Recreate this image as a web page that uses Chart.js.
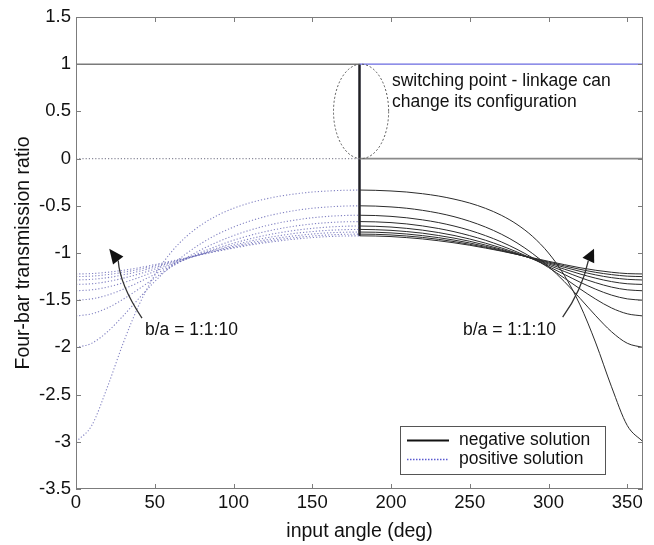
<!DOCTYPE html>
<html><head><meta charset="utf-8">
<script src="https://cdn.jsdelivr.net/npm/chart.js@4.4.1/dist/chart.umd.min.js"></script>
<style>html,body{margin:0;padding:0;background:#fff;}#wrap{width:654px;height:545px;}</style>
</head><body><div id="wrap"><canvas id="c" width="654" height="545"></canvas></div>
<script>
// ---- data ----
const anglesPos = [0,10,20,30,40,50,60,70,80,90,100,110,120,130,140,150,160,170,180];
const anglesNeg = [180,190,200,210,220,230,240,250,260,270,280,290,300,310,320,330,340,350,360];
// positive solution (dotted), 0..180 deg, b/a = 2..10
const pos2  = [-3,-2.827,-2.417,-1.953,-1.55,-1.235,-1,-0.826,-0.697,-0.6,-0.527,-0.471,-0.429,-0.396,-0.372,-0.354,-0.343,-0.336,-0.333];
const pos3  = [-2,-1.956,-1.834,-1.665,-1.48,-1.302,-1.143,-1.007,-0.893,-0.8,-0.725,-0.664,-0.615,-0.577,-0.548,-0.526,-0.512,-0.503,-0.5];
const pos4  = [-1.667,-1.644,-1.582,-1.489,-1.38,-1.265,-1.154,-1.052,-0.961,-0.882,-0.816,-0.76,-0.714,-0.677,-0.649,-0.627,-0.612,-0.603,-0.6];
const pos5  = [-1.5,-1.486,-1.446,-1.384,-1.309,-1.226,-1.143,-1.063,-0.989,-0.923,-0.865,-0.816,-0.774,-0.74,-0.713,-0.692,-0.678,-0.67,-0.667];
const pos6  = [-1.4,-1.39,-1.361,-1.315,-1.259,-1.195,-1.129,-1.064,-1.002,-0.946,-0.896,-0.852,-0.814,-0.783,-0.758,-0.739,-0.725,-0.717,-0.714];
const pos7  = [-1.333,-1.326,-1.303,-1.267,-1.222,-1.171,-1.116,-1.062,-1.009,-0.96,-0.916,-0.876,-0.842,-0.814,-0.79,-0.773,-0.76,-0.753,-0.75];
const pos8  = [-1.286,-1.279,-1.261,-1.232,-1.194,-1.151,-1.105,-1.058,-1.013,-0.969,-0.93,-0.894,-0.863,-0.837,-0.816,-0.799,-0.787,-0.78,-0.778];
const pos9  = [-1.25,-1.245,-1.229,-1.205,-1.173,-1.136,-1.096,-1.055,-1.014,-0.976,-0.94,-0.908,-0.879,-0.855,-0.835,-0.82,-0.809,-0.802,-0.8];
const pos10 = [-1.222,-1.218,-1.204,-1.183,-1.156,-1.123,-1.088,-1.051,-1.015,-0.98,-0.948,-0.918,-0.892,-0.87,-0.851,-0.837,-0.826,-0.82,-0.818];
// negative solution (solid), 180..360 deg, b/a = 2..10
const neg2  = [-0.333,-0.336,-0.343,-0.354,-0.372,-0.396,-0.429,-0.471,-0.527,-0.6,-0.697,-0.826,-1,-1.235,-1.55,-1.953,-2.417,-2.827,-3];
const neg3  = [-0.5,-0.503,-0.512,-0.526,-0.548,-0.577,-0.615,-0.664,-0.725,-0.8,-0.893,-1.007,-1.143,-1.302,-1.48,-1.665,-1.834,-1.956,-2];
const neg4  = [-0.6,-0.603,-0.612,-0.627,-0.649,-0.677,-0.714,-0.76,-0.816,-0.882,-0.961,-1.052,-1.154,-1.265,-1.38,-1.489,-1.582,-1.644,-1.667];
const neg5  = [-0.667,-0.67,-0.678,-0.692,-0.713,-0.74,-0.774,-0.816,-0.865,-0.923,-0.989,-1.063,-1.143,-1.226,-1.309,-1.384,-1.446,-1.486,-1.5];
const neg6  = [-0.714,-0.717,-0.725,-0.739,-0.758,-0.783,-0.814,-0.852,-0.896,-0.946,-1.002,-1.064,-1.129,-1.195,-1.259,-1.315,-1.361,-1.39,-1.4];
const neg7  = [-0.75,-0.753,-0.76,-0.773,-0.79,-0.814,-0.842,-0.876,-0.916,-0.96,-1.009,-1.062,-1.116,-1.171,-1.222,-1.267,-1.303,-1.326,-1.333];
const neg8  = [-0.778,-0.78,-0.787,-0.799,-0.816,-0.837,-0.863,-0.894,-0.93,-0.969,-1.013,-1.058,-1.105,-1.151,-1.194,-1.232,-1.261,-1.279,-1.286];
const neg9  = [-0.8,-0.802,-0.809,-0.82,-0.835,-0.855,-0.879,-0.908,-0.94,-0.976,-1.014,-1.055,-1.096,-1.136,-1.173,-1.205,-1.229,-1.245,-1.25];
const neg10 = [-0.818,-0.82,-0.826,-0.837,-0.851,-0.87,-0.892,-0.918,-0.948,-0.98,-1.015,-1.051,-1.088,-1.123,-1.156,-1.183,-1.204,-1.218,-1.222];
// b/a = 1 (degenerate case): constant values either side of the switching point
const switchAngle = 180;
const ends = [0, 360];
const pos1Left = [0, 0], pos1Right = [1, 1];
const neg1Left = [1, 1], neg1Right = [0, 0];
// axes / labels
const xMin = 0, xMax = 360;
const yMin = -3.5, yMax = 1.5;
const xTicks = [0,50,100,150,200,250,300,350];
const yTicks = [-3.5,-3,-2.5,-2,-1.5,-1,-0.5,0,0.5,1,1.5];
const xTitle = 'input angle (deg)';
const yTitle = 'Four-bar transmission ratio';
const legendLabels = ['negative solution', 'positive solution'];
const noteLines = ['switching point - linkage can', 'change its configuration'];
const ratioText = 'b/a = 1:1:10';

// ---- build datasets ----
const posSets = [pos2,pos3,pos4,pos5,pos6,pos7,pos8,pos9,pos10];
const negSets = [neg2,neg3,neg4,neg5,neg6,neg7,neg8,neg9,neg10];
const pts = (xs, ys) => xs.map((x, i) => ({x, y: ys[i]}));
const DOT = 'rgba(100,100,180,0.8)';
const SOLID = '#2b2b2b';
const datasets = [];
const lowestAtSwitch = Math.min(...posSets.map(a => a[a.length - 1]));
datasets.push({data: pts([ends[0], switchAngle], neg1Left), borderColor:'#7a7a7a', borderWidth:1.6});
datasets.push({data: pts([switchAngle, ends[1]], neg1Right), borderColor:'#8a8a8a', borderWidth:1.6});
datasets.push({data: pts([ends[0], switchAngle], pos1Left), borderColor:'#8a8a9a', borderWidth:1.2, borderDash:[1.2,2]});
datasets.push({data: pts([switchAngle, ends[1]], pos1Right), borderColor:'#6a6ae0', borderWidth:1.2});
negSets.forEach(a => datasets.push({data: pts(anglesNeg, a), borderColor: SOLID, borderWidth: 1, cubicInterpolationMode:'monotone'}));
posSets.forEach(a => datasets.push({data: pts(anglesPos, a), borderColor: DOT, borderWidth: 1.1, borderDash:[1.2,2], cubicInterpolationMode:'monotone'}));
// jumps at the switching point
datasets.push({data: pts([switchAngle, switchAngle], [neg1Left[1], lowestAtSwitch]), borderColor:'#222', borderWidth:2.4});
datasets.push({data: pts([switchAngle, switchAngle], [pos1Right[0], lowestAtSwitch]), borderColor:'#3c3cc0', borderWidth:1.4});

const FONT = '"Liberation Sans", Arial, sans-serif';

const deco = {
  id: 'deco',
  afterDatasetsDraw(chart) {
    const {ctx, chartArea: a, scales: {x, y}} = chart;
    const X = v => x.getPixelForValue(v), Y = v => y.getPixelForValue(v);
    ctx.save();
    // frame + inward ticks
    ctx.strokeStyle = '#7c7c7c'; ctx.lineWidth = 1;
    ctx.strokeRect(a.left + 0.5, a.top + 0.5, a.right - a.left - 1, a.bottom - a.top - 1);
    ctx.beginPath();
    xTicks.forEach(v => {
      const px = Math.round(X(v)) + 0.5;
      ctx.moveTo(px, a.bottom); ctx.lineTo(px, a.bottom - 5);
      ctx.moveTo(px, a.top); ctx.lineTo(px, a.top + 5);
    });
    yTicks.forEach(v => {
      const py = Math.round(Y(v)) + 0.5;
      ctx.moveTo(a.left, py); ctx.lineTo(a.left + 5, py);
      ctx.moveTo(a.right, py); ctx.lineTo(a.right - 5, py);
    });
    ctx.stroke();
    // ellipse around switching point
    ctx.setLineDash([2, 2]); ctx.strokeStyle = '#555'; ctx.lineWidth = 1;
    ctx.beginPath();
    ctx.ellipse(X(181), Y(0.5), Math.abs(X(198.5) - X(181)), Math.abs(Y(1) - Y(0.5)), 0, 0, Math.PI * 2);
    ctx.stroke();
    ctx.setLineDash([]);
    // arrows
    const arrow = (t, c, b, tip) => {
      ctx.strokeStyle = '#333'; ctx.fillStyle = '#111'; ctx.lineWidth = 1.3;
      ctx.beginPath(); ctx.moveTo(X(t[0]), Y(t[1]));
      ctx.quadraticCurveTo(X(c[0]), Y(c[1]), X(b[0]), Y(b[1])); ctx.stroke();
      const bx = X(b[0]), by = Y(b[1]), tx = X(tip[0]), ty = Y(tip[1]);
      const dx = tx - bx, dy = ty - by, L = Math.hypot(dx, dy), nx = -dy / L, ny = dx / L, w = 6.5;
      ctx.beginPath(); ctx.moveTo(tx, ty);
      ctx.lineTo(bx + nx * w, by + ny * w); ctx.lineTo(bx - nx * w, by - ny * w); ctx.closePath(); ctx.fill();
    };
    arrow([41.9, -1.69], [27.9, -1.34], [26.8, -1.08], [21.1, -0.955]);
    arrow([309.0, -1.68], [321.3, -1.39], [325.3, -1.08], [328.9, -0.955]);
    // texts
    ctx.fillStyle = '#111'; ctx.textBaseline = 'middle'; ctx.textAlign = 'left';
    ctx.font = '17.5px ' + FONT;
    ctx.fillText(ratioText, X(43.8), Y(-1.815));
    ctx.fillText(ratioText, X(245.7), Y(-1.815));
    ctx.fillText(noteLines[0], X(200.6), Y(0.816));
    ctx.fillText(noteLines[1], X(200.6), Y(0.60));
    // legend
    const lx = a.right - 243, ly = a.bottom - 63, lw = 205, lh = 48;
    ctx.fillStyle = '#fff'; ctx.fillRect(lx, ly, lw, lh);
    ctx.strokeStyle = '#555'; ctx.lineWidth = 1; ctx.strokeRect(lx + 0.5, ly + 0.5, lw, lh);
    ctx.strokeStyle = '#111'; ctx.lineWidth = 2.2;
    ctx.beginPath(); ctx.moveTo(lx + 7, ly + 14.5); ctx.lineTo(lx + 49, ly + 14.5); ctx.stroke();
    ctx.strokeStyle = '#5a5ad0'; ctx.lineWidth = 1.6; ctx.setLineDash([1.5, 1.5]);
    ctx.beginPath(); ctx.moveTo(lx + 7, ly + 33.5); ctx.lineTo(lx + 49, ly + 33.5); ctx.stroke();
    ctx.setLineDash([]);
    ctx.fillStyle = '#111'; ctx.font = '17.5px ' + FONT;
    ctx.fillText(legendLabels[0], lx + 59, ly + 14);
    ctx.fillText(legendLabels[1], lx + 59, ly + 33);
    // axis titles
    ctx.font = '19.5px ' + FONT; ctx.textAlign = 'center';
    ctx.fillText(xTitle, (a.left + a.right) / 2, a.bottom + 43);
    ctx.translate(24, (a.top + a.bottom) / 2); ctx.rotate(-Math.PI / 2);
    ctx.fillText(yTitle, 0, 0);
    ctx.restore();
  }
};

new Chart(document.getElementById('c'), {
  type: 'scatter',
  data: {datasets: datasets.map(d => Object.assign({showLine: true, pointRadius: 0, fill: false, tension: 0}, d))},
  options: {
    responsive: false, animation: false, devicePixelRatio: 1,
    layout: {padding: {top: 17, right: 11, left: 0, bottom: 0}},
    plugins: {legend: {display: false}, tooltip: {enabled: false}},
    scales: {
      x: {type: 'linear', min: xMin, max: xMax,
          afterBuildTicks: s => { s.ticks = xTicks.map(v => ({value: v})); },
          ticks: {autoSkip: false, color: '#111', font: {family: FONT, size: 18.5}, padding: 3, maxRotation: 0,
                  callback: v => String(v)},
          grid: {display: false, drawTicks: false}, border: {display: false},
          afterFit: s => { s.height = 56; }},
      y: {type: 'linear', min: yMin, max: yMax,
          afterBuildTicks: s => { s.ticks = yTicks.map(v => ({value: v})); },
          ticks: {autoSkip: false, color: '#111', font: {family: FONT, size: 18.5}, padding: 5,
                  callback: v => String(v)},
          grid: {display: false, drawTicks: false}, border: {display: false},
          afterFit: s => { s.width = 76; }}
    }
  },
  plugins: [deco]
});
</script></body></html>
